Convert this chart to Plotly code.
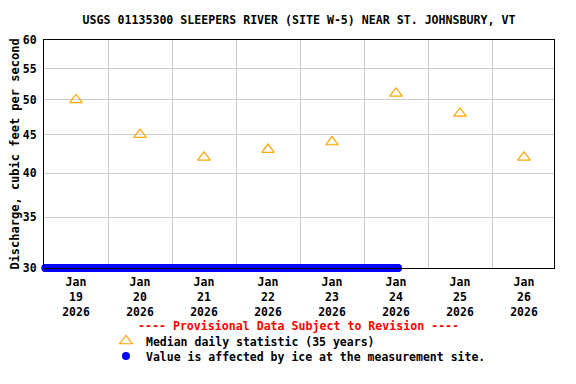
import math
import pandas as pd
import plotly.graph_objects as go

title = "USGS 01135300 SLEEPERS RIVER (SITE W-5) NEAR ST. JOHNSBURY, VT"
median_dates = ["2026-01-19", "2026-01-20", "2026-01-21", "2026-01-22",
                "2026-01-23", "2026-01-24", "2026-01-25", "2026-01-26"]
median_values = [50, 45, 42, 43, 44, 51, 48, 42]
ice_start = "2026-01-18 12:30"
ice_end = "2026-01-24 00:45"
ice_value = 30.0
y_ticks = [30, 35, 40, 45, 50, 55, 60]
x_ticks = median_dates
x_ticklabels = ["Jan<br>%s<br>2026" % d[-2:] for d in median_dates]

ice_times = pd.date_range(ice_start, ice_end, freq="15min")
ice_values = [ice_value] * len(ice_times)

FONT = "DejaVu Sans Mono"
FS = 11.5
OFF = 8  # page body offset


def px_x(px):
    return (px - 44) / 510


def px_y(py):
    return (268 - py) / 228


fig = go.Figure()
fig.add_trace(go.Scatter(
    x=median_dates, y=median_values, mode="markers",
    name="<b>Median daily statistic (35 years)</b>",
    marker=dict(symbol="triangle-up-open", size=11, color="#FFA500",
                line=dict(width=1.2, color="#FFA500")),
    cliponaxis=False, legend="legend",
))
fig.add_trace(go.Scatter(
    x=ice_times, y=ice_values, mode="markers",
    name="<b>Value is affected by ice at the measurement site.</b>",
    marker=dict(symbol="circle", size=8, color="#0000FF"),
    cliponaxis=False, legend="legend2",
))

leg_common = dict(xanchor="left", yanchor="middle",
                  font=dict(family=FONT, size=FS, color="black"),
                  itemwidth=30, bgcolor="rgba(0,0,0,0)", borderwidth=0)

fig.update_layout(
    width=576, height=384,
    margin=dict(l=44 - OFF, r=576 - (554 - OFF), t=40 - OFF,
                b=384 - (268 - OFF), autoexpand=False),
    paper_bgcolor="white", plot_bgcolor="white",
    font=dict(family=FONT, size=FS, color="black"),
    title=dict(text="<b>%s</b>" % title, x=(299 - OFF) / 576, xanchor="center",
               y=1 - (20 - OFF) / 384, yanchor="middle", xref="container",
               font=dict(family=FONT, size=11.6, color="black")),
    showlegend=True,
    legend=dict(x=px_x(106), y=px_y(341), **leg_common),
    legend2=dict(x=px_x(106), y=px_y(356), **leg_common),
    annotations=[dict(
        text="<b>---- Provisional Data Subject to Revision ----</b>",
        x=px_x(298), xref="paper", y=px_y(326), yref="paper",
        xanchor="center", yanchor="middle", showarrow=False,
        font=dict(family=FONT, size=11.6, color="red"))],
)

fig.update_xaxes(
    type="date",
    range=["2026-01-18 12:00", "2026-01-26 11:15"],
    tickmode="array", tickvals=x_ticks,
    ticktext=["<b>%s</b>" % t for t in x_ticklabels],
    showgrid=False, ticks="", ticklabelstandoff=3,
    minor=dict(tick0="2026-01-18 12:00", dtick=86400000, showgrid=True,
               gridcolor="#CCCCCC", gridwidth=1, ticks=""),
    showline=True, linecolor="black", linewidth=1, mirror=True,
    tickfont=dict(family=FONT, size=FS, color="black"),
    zeroline=False,
)
fig.update_yaxes(
    type="log", range=[math.log10(30), math.log10(60)],
    tickmode="array", tickvals=y_ticks,
    ticktext=["<b>%d</b>" % v for v in y_ticks],
    showgrid=True, gridcolor="#CCCCCC", gridwidth=1, ticks="",
    ticklabelstandoff=4,
    showline=True, linecolor="black", linewidth=1, mirror=True,
    tickfont=dict(family=FONT, size=FS, color="black"),
    title=dict(text="<b>Discharge, cubic feet per second</b>", standoff=6,
               font=dict(family=FONT, size=12, color="black")),
    zeroline=False,
)

fig.write_html("out.html")
